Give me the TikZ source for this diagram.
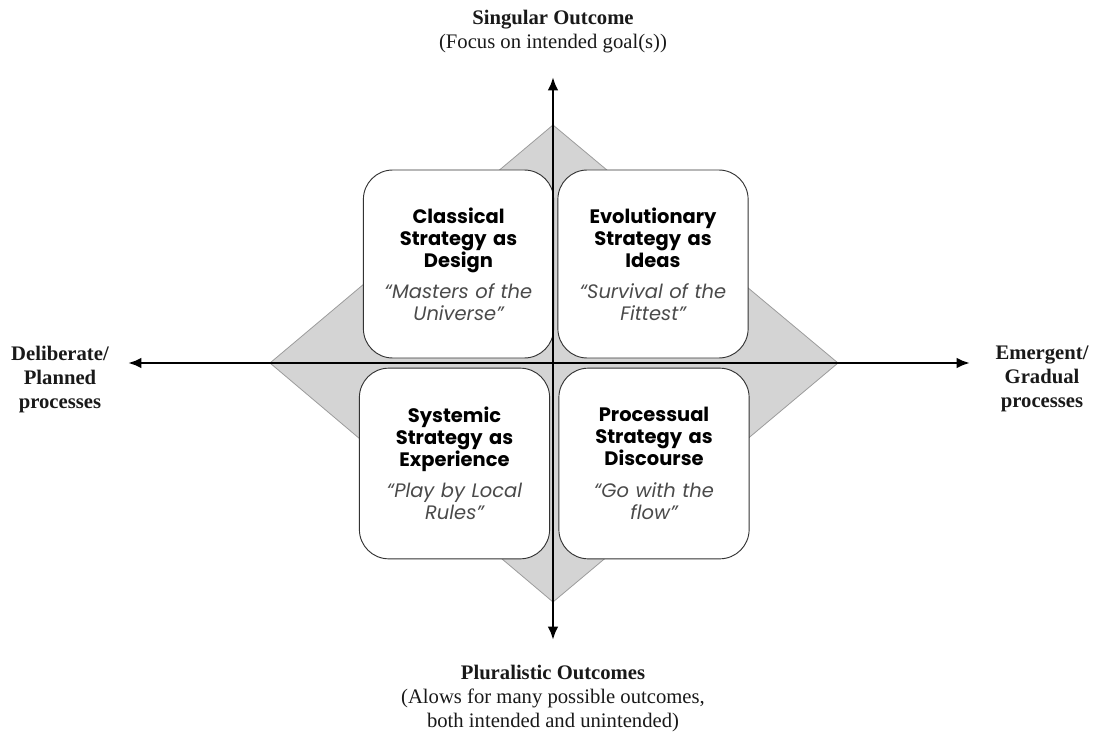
\documentclass[tikz,border=0pt]{standalone}
\usepackage{fontspec}
\setmainfont{Liberation Serif}
\newfontfamily\gothic{Poppins}
\usepackage{xcolor}
\usetikzlibrary{arrows.meta, positioning}

\definecolor{rhombfill}{HTML}{D4D4D4}
\definecolor{rhombline}{HTML}{9C9C9C}
\definecolor{quotegray}{HTML}{4A4A4A}

\begin{document}
\begin{tikzpicture}[x=0.75pt, y=-0.75pt,
    axislabel/.style={align=center, font=\fontsize{15.5}{18}\selectfont, text=black!90},
    quadrant/.style={draw=black!80, line width=0.7pt, fill=white, rounded corners=22pt,
                     minimum width=141pt, minimum height=141pt, text width=136pt, align=center,
                     font=\gothic\fontsize{14.6}{16.5}\selectfont},
    axis/.style={line width=2.2pt, {Latex[length=10pt,width=8pt]}-{Latex[length=10pt,width=8pt]}}]
\useasboundingbox (0,0) rectangle (1106,738);
%
\coordinate (top)    at (553,125);
\coordinate (right)  at (838,363);
\coordinate (bottom) at (553,602);
\coordinate (left)   at (270,363);
\draw[fill=rhombfill, draw=rhombline, line width=0.6pt] (top) -- (right) -- (bottom) -- (left) -- cycle;
%
\node[quadrant, minimum width=138pt] (classical) at (458.5,264)
  {\bfseries Classical\\Strategy as\\Design\\[7pt]\mdseries\itshape\color{quotegray}“Masters of the\\Universe”};
\node[quadrant] (evolution) at (653,264)
  {\bfseries Evolutionary\\Strategy as\\Ideas\\[7pt]\mdseries\itshape\color{quotegray}“Survival of the\\Fittest”};
\node[quadrant, minimum height=143pt] (systemic) at (454.5,463.5)
  {\bfseries Systemic\\Strategy as\\Experience\\[7pt]\mdseries\itshape\color{quotegray}“Play by Local\\Rules”};
\node[quadrant, minimum height=143pt] (process) at (654,463.5)
  {\bfseries Processual\\Strategy as\\Discourse\\[7pt]\mdseries\itshape\color{quotegray}“Go with the\\flow”};
%
\coordinate (ntip) at (553,77);
\coordinate (stip) at (553,640);
\coordinate (wtip) at (128,363);
\coordinate (etip) at (970,363);
\draw[axis] (stip) -- (ntip);
\draw[axis] (wtip) -- (etip);
%
\node[axislabel] (singular) at (553,32)
  {\textbf{Singular Outcome}\\(Focus on intended goal(s))};
\node[axislabel] (plural) at (553,699)
  {\textbf{Pluralistic Outcomes}\\(Alows for many possible outcomes,\\both intended and unintended)};
\node[axislabel, font=\fontsize{15.5}{18}\selectfont\bfseries] (deliberate) at (60,380)
  {Deliberate/\\Planned\\processes};
\node[axislabel, font=\fontsize{15.5}{18}\selectfont\bfseries] (emergent) at (1042,379)
  {Emergent/\\Gradual\\processes};
\end{tikzpicture}
\end{document}
